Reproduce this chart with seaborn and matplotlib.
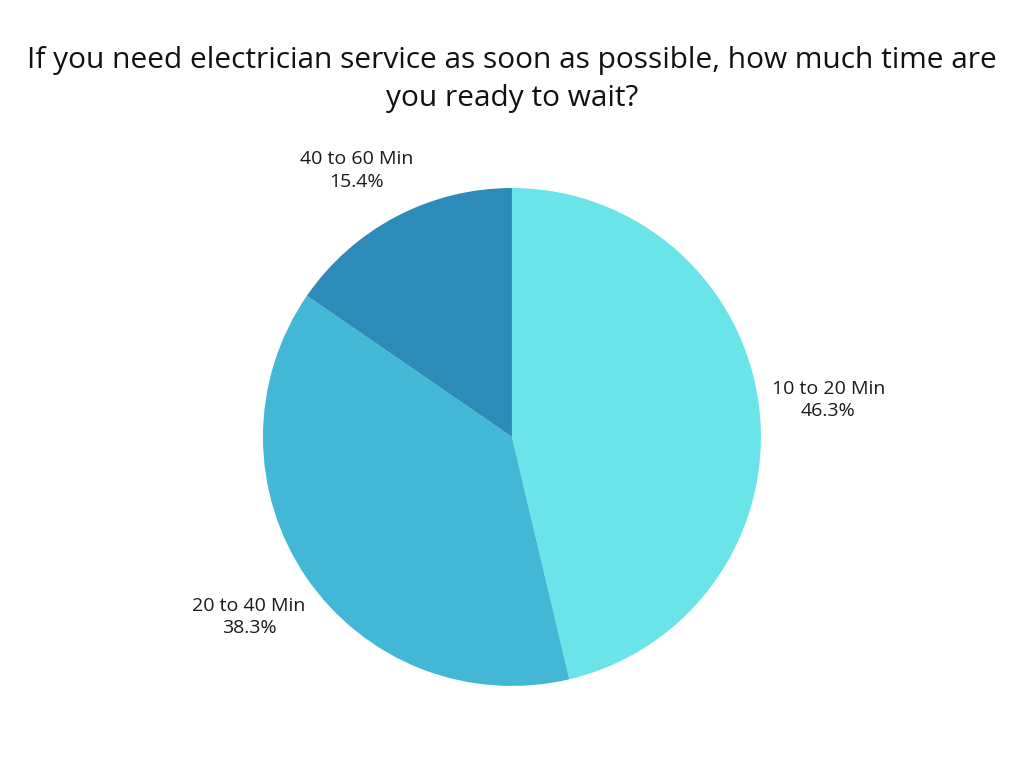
import matplotlib
matplotlib.use("Agg")
import matplotlib.pyplot as plt
import seaborn as sns
import numpy as np

# dados do gráfico
categorias = ["10 to 20 Min", "20 to 40 Min", "40 to 60 Min"]
percentuais = [46.3, 38.3, 15.4]
cores = ["#6AE4E8", "#43B8D6", "#2D8BBA"]
titulo = "If you need electrician service as soon as possible, how much time are\nyou ready to wait?"
# distância de cada rótulo ao centro (em raios)
distancias = [1.28, 1.28, 1.21]

sns.set_theme(style="white")
plt.rcParams['font.family'] = ['Open Sans', 'DejaVu Sans']

fig = plt.figure(figsize=(10.24, 7.68), dpi=100)
fig.patch.set_facecolor("white")

# eixo posicionado para o círculo ficar no mesmo lugar da referência
ax = fig.add_axes([0.2568, 0.1068, 0.4863, 0.6484])

rotulos = [f"{c}\n{p:.1f}%" for c, p in zip(categorias, percentuais)]
fatias, textos = ax.pie(percentuais, labels=rotulos, colors=cores, startangle=90,
                        counterclock=False, labeldistance=1.28,
                        wedgeprops=dict(linewidth=0))
for fatia, t, d in zip(fatias, textos, distancias):
    ang = np.deg2rad((fatia.theta1 + fatia.theta2) / 2)
    t.set_position((d * np.cos(ang), d * np.sin(ang)))
    t.set_ha("center")
    t.set_va("center")
    t.set_fontsize(14)
    t.set_color("#1a1a1a")
    t.set_linespacing(1.35)

# o rótulo de cima fica um pouco mais à esquerda na referência
textos[2].set_x(textos[2].get_position()[0] - 0.06)

ax.set_xlim(-1, 1)
ax.set_ylim(-1, 1)
ax.set_aspect("equal")
ax.axis("off")

fig.text(0.5, 0.94, titulo, ha="center", va="top", fontsize=21.5,
         color="#111111", linespacing=1.4)

fig.savefig("out.png", dpi=100, facecolor="white")
